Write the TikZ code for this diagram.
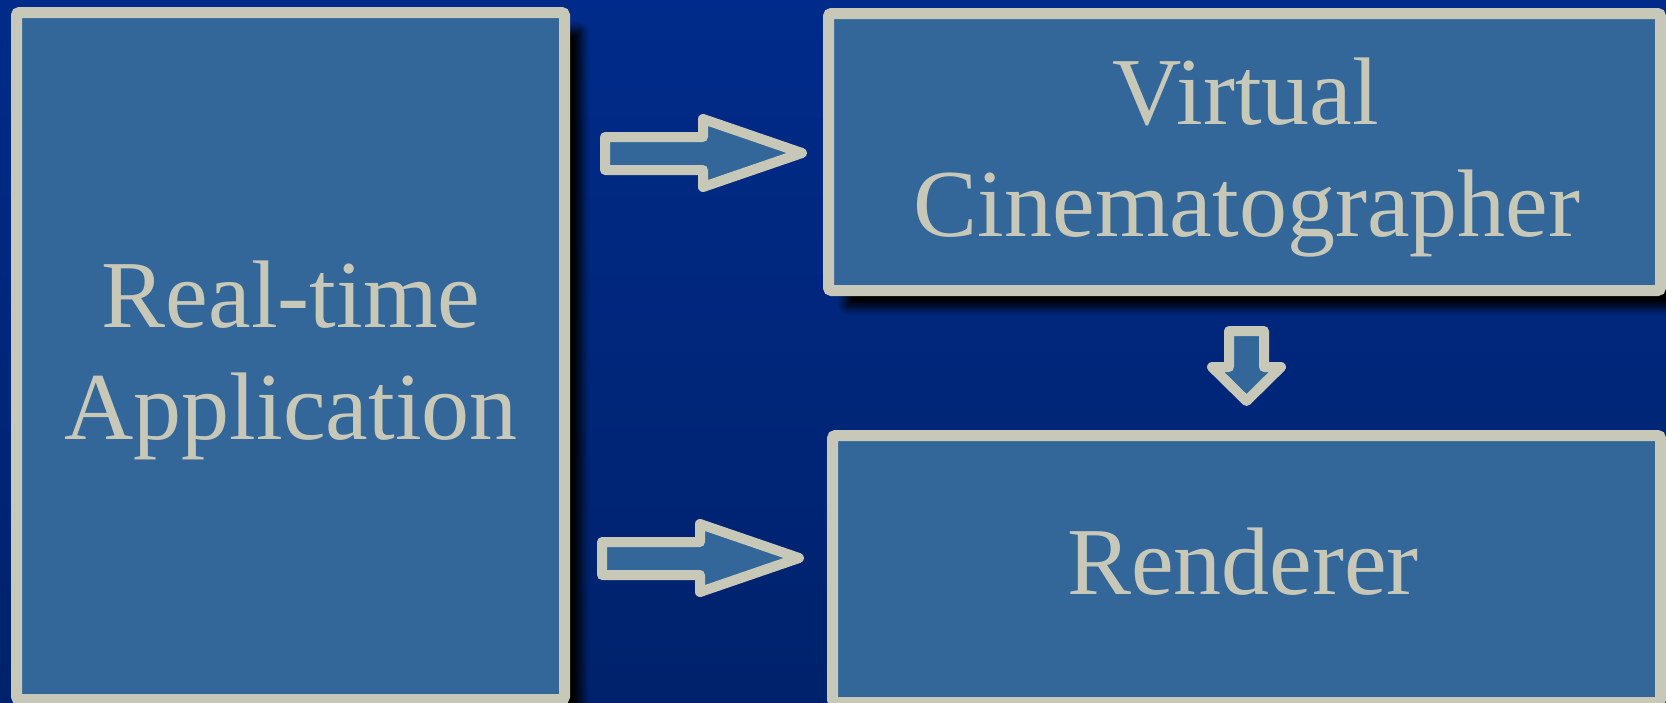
\documentclass[tikz,border=0pt]{standalone}
\usepackage{fontspec}
\setmainfont{Liberation Serif}
\usetikzlibrary{shadows.blur}
\definecolor{bgtop}{RGB}{0,43,138}
\definecolor{bgbot}{RGB}{0,34,108}
\definecolor{boxfill}{RGB}{51,103,153}
\definecolor{edgec}{RGB}{200,200,184}
\begin{document}
\begin{tikzpicture}[x=1pt,y=-1pt,
  panel/.style={draw=edgec, line width=11pt, fill=boxfill, rounded corners=3pt,
    inner sep=0pt, outer sep=0pt,
    blur shadow={shadow xshift=17pt, shadow yshift=-17pt, shadow blur radius=8pt, shadow opacity=100, shadow blur steps=12}},
  blockarrow/.style={draw=edgec, line width=10pt, fill=boxfill, line join=round},
  lbl/.style={text=edgec, font=\fontsize{96}{112}\selectfont, anchor=base, inner sep=0pt}]
\useasboundingbox (0,0) rectangle (1666,702);
\clip (0,0) rectangle (1666,702);
\shade[top color=bgtop, bottom color=bgbot] (0,0) rectangle (1666,702);
% boxes
\node[panel, minimum width=548pt, minimum height=687pt] (app) at (290.5,356) {};
\node[panel, minimum width=832pt, minimum height=277pt] (cine) at (1244.5,152) {};
\node[panel, minimum width=828pt, minimum height=267pt] (rend) at (1246.5,569) {};
% texts
\node[lbl] (rt1) at (291,327) {Real-time};
\node[lbl] (rt2) at (291,439) {Application};
\node[lbl] (vc1) at (1246,124) {Virtual};
\node[lbl] (vc2) at (1247,236) {Cinematographer};
\node[lbl] (rd) at (1243,594) {Renderer};
% block arrows
\draw[blockarrow] (605,137) -- (703,137) -- (703,119) -- (802,153) -- (703,187) -- (703,170) -- (605,170) -- cycle;
\draw[blockarrow] (602,542) -- (700,542) -- (700,524) -- (799,558) -- (700,592) -- (700,575) -- (602,575) -- cycle;
\draw[blockarrow] (1229,331) -- (1264,331) -- (1264,367) -- (1281,367) -- (1246.5,401) -- (1212,367) -- (1229,367) -- cycle;
\end{tikzpicture}
\end{document}
